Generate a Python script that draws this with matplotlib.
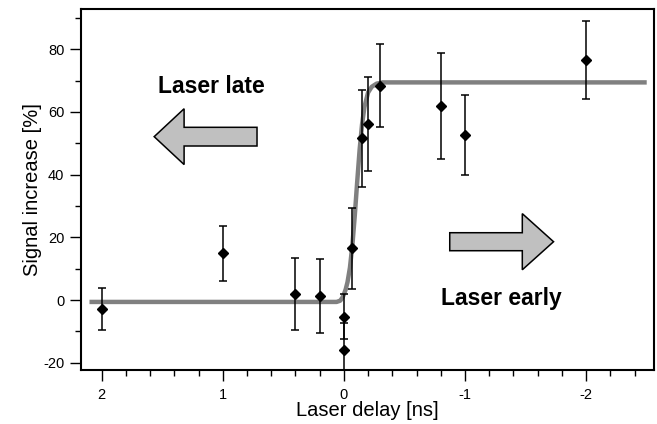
import numpy as np
import matplotlib
matplotlib.use('Agg')
import matplotlib.pyplot as plt
from matplotlib.ticker import MultipleLocator
from matplotlib.patches import FancyArrow
matplotlib.rcParams.update({'font.family': 'Liberation Sans', 'axes.unicode_minus': False})

# measured points (laser delay in ns, signal increase in %, error)
delay = [2.0, 1.0, 0.4, 0.2, 0.0, 0.0, -0.07, -0.15, -0.2, -0.3, -0.8, -1.0, -2.0]
signal = [-2.9, 14.9, 1.9, 1.3, -5.3, -15.9, 16.5, 51.6, 56.0, 68.3, 61.9, 52.6, 76.6]
err = [6.7, 8.8, 11.5, 11.7, 7.1, 8.7, 12.9, 15.4, 15.0, 13.2, 17.0, 12.7, 12.4]

# step fit
fit_x = [2.1, 0.06, 0.03, 0.01, 0.0, -0.015, -0.03, -0.05, -0.07, -0.09, -0.11,
         -0.13, -0.15, -0.17, -0.2, -0.23, -0.27, -0.32, -2.5]
fit_y = [-0.6, -0.6, -0.2, 0.9, 1.8, 3.4, 5.7, 10.3, 17.4, 26.9, 37.7,
         47.9, 56.0, 61.6, 66.2, 68.0, 69.0, 69.4, 69.4]

fig = plt.figure(figsize=(6.57, 4.24), dpi=100)
ax = fig.add_axes([0.1233, 0.1274, 0.8721, 0.8506])

ax.plot(fit_x, fit_y, color='#808080', lw=3.2, zorder=1, solid_capstyle='butt')
ax.errorbar(delay, signal, yerr=err, fmt='D', color='k', ms=5.4, ecolor='k',
            elinewidth=1.1, capsize=3, capthick=1.1, zorder=2)

# arrows
ax.add_patch(FancyArrow(0.717, 52.1, 0.849, 0, width=5.96, head_width=17.8,
                        head_length=0.247, length_includes_head=True,
                        fc='#c0c0c0', ec='k', lw=1.1, zorder=3))
ax.add_patch(FancyArrow(-0.874, 18.6, -0.857, 0, width=5.74, head_width=17.9,
                        head_length=0.258, length_includes_head=True,
                        fc='#c0c0c0', ec='k', lw=1.1, zorder=3))
ax.text(1.096, 68.0, 'Laser late', fontsize=16.5, fontweight='bold', ha='center', va='center')
ax.text(-1.30, 0.4, 'Laser early', fontsize=16.5, fontweight='bold', ha='center', va='center')

ax.set_xlim(2.17, -2.56)
ax.set_ylim(-22.3, 92.7)
ax.xaxis.set_major_locator(MultipleLocator(1))
ax.xaxis.set_minor_locator(MultipleLocator(0.2))
ax.yaxis.set_major_locator(MultipleLocator(20))
ax.yaxis.set_minor_locator(MultipleLocator(10))
ax.tick_params(which='major', direction='out', length=8, width=1, labelsize=10.5)
ax.tick_params(which='minor', direction='out', length=4, width=1)
ax.tick_params(axis='x', which='major', pad=5)
ax.tick_params(axis='y', which='major', pad=4)
for s in ax.spines.values():
    s.set_linewidth(1.5)

ax.set_xlabel('Laser delay [ns]', fontsize=14.5, labelpad=-1)
ax.set_ylabel('Signal increase [%]', fontsize=14.5, labelpad=1)

plt.savefig('out.png', dpi=100)
